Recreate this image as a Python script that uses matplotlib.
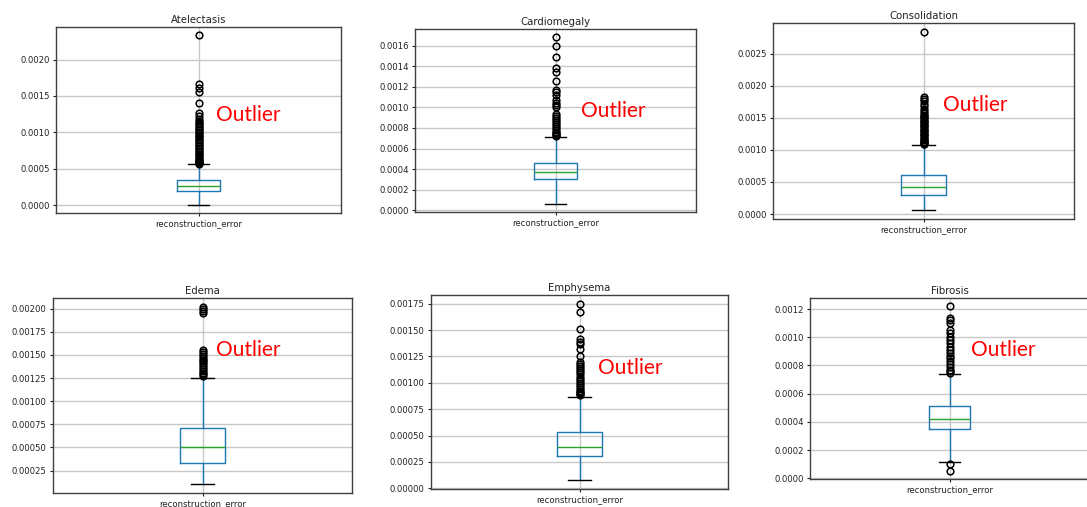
import matplotlib
matplotlib.use("Agg")
import matplotlib.pyplot as plt
from matplotlib.ticker import MultipleLocator, FormatStrFormatter

W, H = 1087, 507

titles = ["Atelectasis", "Cardiomegaly", "Consolidation", "Edema", "Emphysema", "Fibrosis"]
xlabel = "reconstruction_error"

whislo = [0.00001, 0.000065, 0.000062, 0.000103, 0.000076, 0.000117]
q1 = [0.000200, 0.000303, 0.000296, 0.000336, 0.000301, 0.000352]
med = [0.000268, 0.000371, 0.000416, 0.000509, 0.000387, 0.000418]
q3 = [0.000347, 0.000460, 0.000607, 0.000707, 0.000530, 0.000511]
whishi = [0.000560, 0.000710, 0.001070, 0.001252, 0.000868, 0.000742]

fliers_atelectasis = [0.00057, 0.00058, 0.00059, 0.00060, 0.00061, 0.00062, 0.00063, 0.00065,
                      0.00067, 0.00069, 0.00071, 0.00073, 0.00075, 0.00077, 0.00079, 0.00081,
                      0.00083, 0.00085, 0.00087, 0.00089, 0.00091, 0.00093, 0.00095, 0.00097,
                      0.00099, 0.00101, 0.00103, 0.00105, 0.00107, 0.00109, 0.00111, 0.00113,
                      0.00116, 0.00119, 0.00123, 0.00127, 0.00141, 0.00156, 0.00161, 0.00167,
                      0.00233]
fliers_cardiomegaly = [0.00072, 0.00073, 0.00074, 0.00075, 0.00076, 0.00078, 0.00080, 0.00082,
                       0.00084, 0.00086, 0.00088, 0.00090, 0.00092, 0.00094, 0.00100, 0.00102,
                       0.00104, 0.00107, 0.00112, 0.00115, 0.00117, 0.00126, 0.00134, 0.00138,
                       0.00149, 0.00160, 0.00168]
fliers_consolidation = [0.00109, 0.00110, 0.00111, 0.00112, 0.00113, 0.00115, 0.00117, 0.00119,
                        0.00121, 0.00123, 0.00125, 0.00127, 0.00129, 0.00131, 0.00133, 0.00135,
                        0.00137, 0.00139, 0.00141, 0.00143, 0.00145, 0.00147, 0.00149, 0.00151,
                        0.00153, 0.00155, 0.00157, 0.00160, 0.00164, 0.00168, 0.00172, 0.00176,
                        0.00180, 0.00183, 0.00284]
fliers_edema = [0.00127, 0.00129, 0.00131, 0.00133, 0.00135, 0.00137, 0.00139, 0.00141, 0.00143,
                0.00145, 0.00147, 0.00149, 0.00151, 0.00153, 0.00155, 0.00195, 0.00198, 0.00200,
                0.00202]
fliers_emphysema = [0.00088, 0.00089, 0.00090, 0.00091, 0.00092, 0.00094, 0.00096, 0.00098,
                    0.00100, 0.00102, 0.00104, 0.00106, 0.00108, 0.00110, 0.00112, 0.00114,
                    0.00116, 0.00118, 0.00120, 0.00125, 0.00132, 0.00137, 0.00139, 0.00142,
                    0.00151, 0.00167, 0.00175]
fliers_fibrosis = [0.000054, 0.000105, 0.00075, 0.00076, 0.00077, 0.00079, 0.00081, 0.00083,
                   0.00085, 0.00087, 0.00089, 0.00091, 0.00093, 0.00096, 0.00098, 0.00100,
                   0.00103, 0.00105, 0.00110, 0.00112, 0.00114, 0.00122]
fliers = [fliers_atelectasis, fliers_cardiomegaly, fliers_consolidation,
          fliers_edema, fliers_emphysema, fliers_fibrosis]

tick_steps = [0.0005, 0.0002, 0.0005, 0.00025, 0.00025, 0.0002]
tick_fmt = ["%.4f", "%.4f", "%.4f", "%.5f", "%.5f", "%.4f"]

# axes boxes in pixels: left, right, top, bottom
boxes_px = [(56, 341, 27, 213), (415, 696, 29, 212), (773, 1074, 23, 219),
            (53, 352, 298, 493), (431, 728, 295, 489), (810, 1089, 298, 479)]
# "Outlier" annotation positions (axes fraction)
note_pos = [(0.561, 0.527), (0.590, 0.552), (0.564, 0.581),
            (0.545, 0.734), (0.563, 0.622), (0.577, 0.714)]

fig = plt.figure(figsize=(W / 100, H / 100), dpi=100)
fig.patch.set_facecolor("white")

for i in range(6):
    l, r, t, b = boxes_px[i]
    ax = fig.add_axes([l / W, (H - b) / H, (r - l) / W, (b - t) / H])
    stats = [dict(whislo=whislo[i], q1=q1[i], med=med[i], q3=q3[i],
                  whishi=whishi[i], fliers=fliers[i], label=xlabel)]
    ax.bxp(stats, positions=[1], widths=0.15,
           boxprops=dict(color="#1f77b4", linewidth=1.0),
           whiskerprops=dict(color="#1f77b4", linewidth=1.0),
           capprops=dict(color="black", linewidth=1.0),
           medianprops=dict(color="#2ca02c", linewidth=1.0),
           flierprops=dict(marker="o", markerfacecolor="none", markeredgecolor="black",
                           markersize=4.8, markeredgewidth=1.1))
    ax.set_xlim(0.5, 1.5)
    ax.yaxis.set_major_locator(MultipleLocator(tick_steps[i]))
    ax.yaxis.set_major_formatter(FormatStrFormatter(tick_fmt[i]))
    ax.grid(True, color="#c8c8c8", linewidth=1.0)
    ax.set_axisbelow(True)
    for s in ax.spines.values():
        s.set_color("#404040")
        s.set_linewidth(1.0)
    ax.tick_params(labelsize=6.1, length=2.5, width=0.8, pad=2, colors="#222222")
    ax.set_title(titles[i], fontsize=7.3, pad=3, color="#222222")
    ax.text(note_pos[i][0], note_pos[i][1], "Outlier", transform=ax.transAxes,
            color="#ff0000", fontsize=15, family=["Lato", "DejaVu Sans"],
            ha="left", va="center")

fig.savefig("out.png", dpi=100)
